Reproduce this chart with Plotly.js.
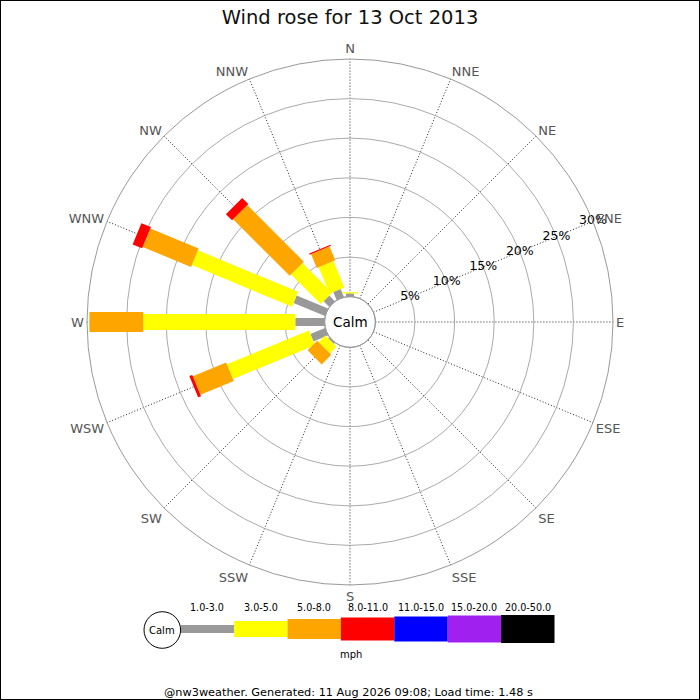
<!DOCTYPE html>
<html>
<head>
<meta charset="utf-8">
<script src="https://cdn.plot.ly/plotly-3.0.1.min.js"></script>
<style>
  html, body { margin: 0; padding: 0; background: #fff; }
  #myDiv { width: 700px; height: 700px; }
</style>
</head>
<body>
<div id="myDiv"></div>
<script>
// compass points, clockwise from N
let directions = ["N", "NNE", "NE", "ENE", "E", "ESE", "SE", "SSE",
                  "S", "SSW", "SW", "WSW", "W", "WNW", "NW", "NNW"];
let speed_bins = ["1.0-3.0", "3.0-5.0", "5.0-8.0", "8.0-11.0", "11.0-15.0", "15.0-20.0", "20.0-50.0"];

// % of time per direction, one array per speed bin
let pct_1_3   = [0.4, 0, 0, 0, 0, 0, 0, 0, 0, 0, 0.2, 2.0, 3.7, 4.3, 1.0, 1.1];
let pct_3_5   = [0.15, 0, 0, 0, 0, 0, 0, 0, 0, 0, 1.2, 11.2, 19.2, 13.7, 5.3, 3.6];
let pct_5_8   = [0, 0, 0, 0, 0, 0, 0, 0, 0, 0, 1.7, 4.55, 6.8, 6.6, 10.1, 1.9];
let pct_8_11  = [0, 0, 0, 0, 0, 0, 0, 0, 0, 0, 0, 0.4, 0, 1.3, 1.1, 0.15];
let pct_11_15 = [0, 0, 0, 0, 0, 0, 0, 0, 0, 0, 0, 0, 0, 0, 0, 0];
let pct_15_20 = [0, 0, 0, 0, 0, 0, 0, 0, 0, 0, 0, 0, 0, 0, 0, 0];
let pct_20_50 = [0, 0, 0, 0, 0, 0, 0, 0, 0, 0, 0, 0, 0, 0, 0, 0];

let radial_ticks = [5, 10, 15, 20, 25, 30];
let radial_label_dir = "ENE";

// styles
let bin_colors = ["#999999", "#ffff00", "#ffa500", "#ff0000", "#0000ff", "#a020f0", "#000000"];
let bin_widths = [8, 16, 20, 23, 25, 27, 28];

let fontName = "DejaVu Sans";

function px(x) { return x / 700; }
function py(y) { return 1 - y / 700; }

function note(x, y, text, size) {
  return {
    xref: "paper", yref: "paper", x: px(x), y: py(y), text: text, showarrow: false,
    xanchor: "center", yanchor: "middle",
    font: { family: fontName, size: size, color: "#000" }
  };
}

function windRose() {
  let all_bins = [pct_1_3, pct_3_5, pct_5_8, pct_8_11, pct_11_15, pct_15_20, pct_20_50];
  let step = 360 / directions.length;
  let base = directions.map(() => 0);
  let data = [];

  all_bins.forEach((vals, b) => {
    let r = [], theta = [];
    vals.forEach((v, d) => {
      if (v > 0) {
        r.push(base[d], base[d] + v, null);
        theta.push(d * step, d * step, null);
      }
      base[d] += v;
    });
    if (r.length) {
      data.push({
        type: "scatterpolar",
        mode: "lines",
        r: r,
        theta: theta,
        connectgaps: false,
        name: speed_bins[b],
        line: { color: bin_colors[b], width: bin_widths[b] },
        hoverinfo: "skip"
      });
    }
  });

  // radial % labels centred on the ENE spoke
  let labAngle = directions.indexOf(radial_label_dir) * step;
  data.push({
    type: "scatterpolar",
    mode: "text",
    r: radial_ticks,
    theta: radial_ticks.map(() => labAngle),
    text: radial_ticks.map(v => v + "%"),
    textposition: "middle center",
    textfont: { family: fontName, size: 12.5, color: "#000" },
    cliponaxis: false,
    hoverinfo: "skip"
  });

  // legend drawn as shapes below the rose
  let shapes = [];
  let annotations = [];
  let lx0 = 180.7, lw = 53.4, ly = 629;
  speed_bins.forEach((lab, i) => {
    let h = bin_widths[i];
    shapes.push({
      type: "rect", xref: "paper", yref: "paper",
      x0: px(lx0 + i * lw), x1: px(lx0 + (i + 1) * lw),
      y0: py(ly + h / 2), y1: py(ly - h / 2),
      fillcolor: bin_colors[i], line: { width: 0 }, layer: "above"
    });
    annotations.push(note(lx0 + (i + 0.5) * lw, 607, lab, 9.6));
  });
  // legend calm circle
  shapes.push({
    type: "circle", xref: "paper", yref: "paper",
    x0: px(162.3 - 18.3), x1: px(162.3 + 18.3), y0: py(630 + 18.3), y1: py(630 - 18.3),
    fillcolor: "#fff", line: { color: "#000", width: 1 }
  });
  annotations.push(note(162.3, 630, "Calm", 10));
  annotations.push(note(351, 654, "mph", 10));

  // calm circle in the middle of the rose
  let cx = 350, cy = 322, hr = 25.4;
  shapes.push({
    type: "circle", xref: "paper", yref: "paper",
    x0: px(cx - hr), x1: px(cx + hr), y0: py(cy + hr), y1: py(cy - hr),
    fillcolor: "rgba(255,255,255,0)", line: { color: "#999", width: 1 }
  });
  annotations.push(note(cx, cy, "Calm", 13.5));

  // footer
  annotations.push(note(348, 692, "@nw3weather. Generated: 11 Aug 2026 09:08; Load time: 1.48 s", 11.3));

  // image border
  shapes.push({
    type: "rect", xref: "paper", yref: "paper", x0: 0, x1: 1, y0: 0, y1: 1,
    line: { color: "#000", width: 2 }
  });

  let layout = {
    width: 700,
    height: 700,
    margin: { l: 0, r: 0, t: 0, b: 0 },
    paper_bgcolor: "#fff",
    showlegend: false,
    font: { family: fontName },
    title: {
      text: "Wind rose for 13 Oct 2013",
      x: 0.5, xanchor: "center", y: py(17), yanchor: "middle",
      font: { family: fontName, size: 19.5, color: "#111" }
    },
    polar: {
      domain: { x: [px(87), px(613)], y: [py(585), py(59)] },
      bgcolor: "#fff",
      hole: hr / 263,
      angularaxis: {
        rotation: 90,
        direction: "clockwise",
        tickmode: "array",
        tickvals: directions.map((d, i) => i * step),
        ticktext: directions,
        ticks: "",
        tickfont: { family: fontName, size: 13, color: "#555" },
        showline: true,
        linecolor: "#999",
        linewidth: 1,
        showgrid: true,
        gridcolor: "#222",
        gridwidth: 1,
        griddash: "1px,2px"
      },
      radialaxis: {
        range: [0, 30],
        angle: 22.5,
        tickmode: "array",
        tickvals: radial_ticks,
        showticklabels: false,
        ticks: "",
        showline: false,
        gridcolor: "#aaa",
        gridwidth: 1
      }
    },
    shapes: shapes,
    annotations: annotations
  };

  Plotly.newPlot("myDiv", data, layout, { staticPlot: true });
}

(function() {
  setTimeout(windRose, 0);
})();
</script>
</body>
</html>
